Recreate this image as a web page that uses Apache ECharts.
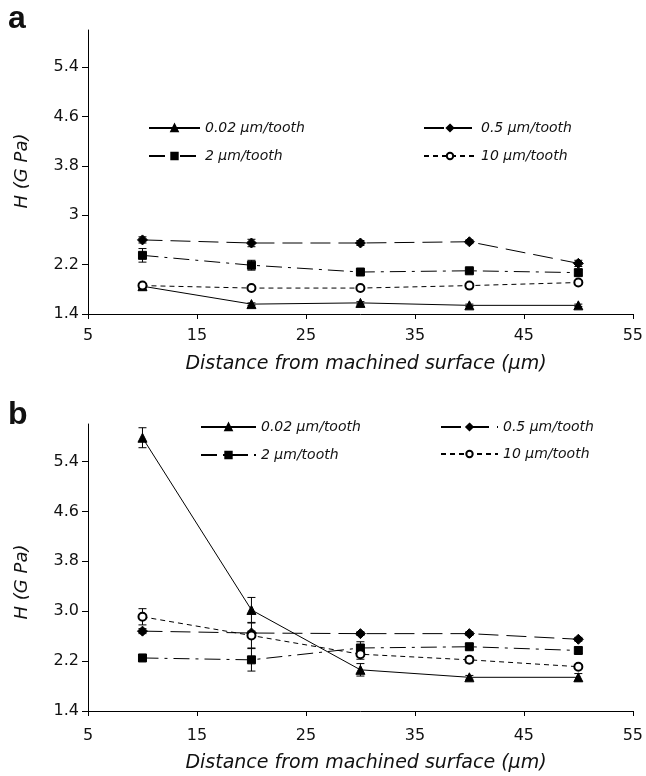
<!DOCTYPE html>
<html>
<head>
<meta charset="utf-8">
<script src="https://cdn.jsdelivr.net/npm/echarts@6/dist/echarts.min.js"></script>
<style>
  html, body { margin: 0; padding: 0; background: #fff; }
  #chart { width: 646px; height: 776px; }
</style>
</head>
<body>
<div id="chart"></div>
<script>
// x positions (µm) and tick values
const distance = [10, 20, 30, 40, 50];
const xTicks = [5, 15, 25, 35, 45, 55];
const yTicks = [1.4, 2.2, 3.0, 3.8, 4.6, 5.4];
const names = ['0.02 μm/tooth', '0.5 μm/tooth', '2 μm/tooth', '10 μm/tooth'];

// panel a
const a002 = [1.85, 1.56, 1.58, 1.54, 1.54];
const a05 = [2.6, 2.55, 2.55, 2.57, 2.22];
const a2 = [2.35, 2.19, 2.08, 2.1, 2.07];
const a10 = [1.86, 1.82, 1.82, 1.86, 1.91];
const a002Err = [0.02, 0.02, 0.02, 0.02, 0.02];
const a05Err = [0.05, 0.06, 0.04, 0.03, 0.05];
const a2Err = [0.11, 0.08, 0.03, 0.03, 0.05];
const a10Err = [0.03, 0.02, 0.02, 0.03, 0.02];

// panel b
const b002 = [5.78, 3.02, 2.06, 1.94, 1.94];
const b05 = [2.68, 2.65, 2.64, 2.64, 2.55];
const b2 = [2.25, 2.22, 2.41, 2.43, 2.37];
const b10 = [2.91, 2.61, 2.31, 2.22, 2.11];
const b002Err = [0.16, 0.2, 0.1, 0.03, 0.06];
const b05Err = [0.04, 0.03, 0.03, 0.03, 0.03];
const b2Err = [0.03, 0.18, 0.1, 0.05, 0.05];
const b10Err = [0.13, 0.2, 0.08, 0.05, 0.03];

const font = 'DejaVu Sans';
const ink = '#111';

const styles = [
  { symbol: 'triangle', size: 9, dash: 'solid' },
  { symbol: 'diamond', size: 10, dash: [20, 8] },
  { symbol: 'rect', size: 8, dash: [16, 6, 3, 6] },
  { symbol: 'emptyCircle', size: 8, dash: [5, 4] }
];

function lineSeries(idx, k, ys) {
  const s = styles[k];
  return {
    type: 'line', name: names[k], xAxisIndex: idx, yAxisIndex: idx,
    data: distance.map((x, i) => [x, ys[i]]),
    symbol: s.symbol, symbolSize: s.size, z: 3,
    lineStyle: { color: '#000', width: 1, type: s.dash },
    itemStyle: { color: '#000', borderColor: '#000', borderWidth: 1 }
  };
}

function errSeries(idx, ys, errs) {
  return {
    type: 'custom', name: 'err', xAxisIndex: idx, yAxisIndex: idx, z: 2,
    data: distance.map((x, i) => [x, ys[i], errs[i]]),
    renderItem: (params, api) => {
      const x = api.value(0), y = api.value(1), e = api.value(2);
      const hi = api.coord([x, y + e]);
      const lo = api.coord([x, y - e]);
      const w = 4;
      const st = { stroke: '#000', lineWidth: 1 };
      return {
        type: 'group',
        children: [
          { type: 'line', shape: { x1: hi[0], y1: hi[1], x2: lo[0], y2: lo[1] }, style: st },
          { type: 'line', shape: { x1: hi[0] - w, y1: hi[1], x2: hi[0] + w, y2: hi[1] }, style: st },
          { type: 'line', shape: { x1: lo[0] - w, y1: lo[1], x2: lo[0] + w, y2: lo[1] }, style: st }
        ]
      };
    }
  };
}

function xAxis(idx, margin) {
  return {
    type: 'value', gridIndex: idx, min: 5, max: 55,
    axisLine: { show: true, lineStyle: { color: '#000', width: 1 } },
    axisTick: { show: true, length: 5, customValues: xTicks, lineStyle: { color: '#000' } },
    axisLabel: { customValues: xTicks, margin: margin, color: ink, fontSize: 16, fontFamily: font },
    splitLine: { show: false }
  };
}

function yAxis(idx, fmt) {
  return {
    type: 'value', gridIndex: idx, min: 1.4, max: 6.0,
    axisLine: { show: true, lineStyle: { color: '#000', width: 1 } },
    axisTick: { show: true, length: 6, customValues: yTicks, lineStyle: { color: '#000' } },
    axisLabel: { customValues: yTicks, margin: 9, color: ink, fontSize: 16, fontFamily: font, formatter: fmt },
    splitLine: { show: false }
  };
}

function legend(k, left, top, width) {
  return {
    data: [names[k]], left: left, top: top, padding: 0,
    itemWidth: width, itemHeight: 8, selectedMode: false,
    textStyle: { color: ink, fontSize: 14, fontStyle: 'italic', fontFamily: font }
  };
}

function label(text, x, y, extra) {
  return {
    type: 'text', x: x, y: y,
    style: Object.assign({ text: text, fill: ink, align: 'center', verticalAlign: 'middle' }, extra)
  };
}

const titleStyle = { font: 'italic 19px "DejaVu Sans"' };
const yNameStyle = { font: 'italic 18px "DejaVu Sans"' };
const letterStyle = { font: 'bold 32px "Liberation Sans"', align: 'left' };

const chart = echarts.init(document.getElementById('chart'));
chart.setOption({
  animation: false,
  backgroundColor: '#fff',
  grid: [
    { left: 88, right: 13, top: 30, height: 284 },
    { left: 88, right: 13, top: 424, height: 287 }
  ],
  xAxis: [xAxis(0, 14), xAxis(1, 17)],
  yAxis: [
    yAxis(0, v => (v === 3 ? '3' : v.toFixed(1))),
    yAxis(1, v => v.toFixed(1))
  ],
  legend: [
    legend(0, 148, 121, 51),
    legend(2, 148, 149, 51),
    legend(1, 423, 121, 52),
    legend(3, 423, 149, 52),
    legend(0, 200, 420, 55),
    legend(2, 200, 448, 55),
    legend(1, 440, 420, 57),
    legend(3, 440, 447, 57)
  ],
  graphic: [
    label('a', 8, 19, letterStyle),
    label('b', 8, 415, letterStyle),
    label('Distance from machined surface (μm)', 366, 364, titleStyle),
    label('Distance from machined surface (μm)', 366, 763, titleStyle),
    Object.assign(label('H (G Pa)', 22, 171, yNameStyle), { rotation: Math.PI / 2 }),
    Object.assign(label('H (G Pa)', 22, 582, yNameStyle), { rotation: Math.PI / 2 })
  ],
  series: [
    errSeries(0, a002, a002Err), errSeries(0, a05, a05Err),
    errSeries(0, a2, a2Err), errSeries(0, a10, a10Err),
    lineSeries(0, 0, a002), lineSeries(0, 1, a05), lineSeries(0, 2, a2), lineSeries(0, 3, a10),
    errSeries(1, b002, b002Err), errSeries(1, b05, b05Err),
    errSeries(1, b2, b2Err), errSeries(1, b10, b10Err),
    lineSeries(1, 0, b002), lineSeries(1, 1, b05), lineSeries(1, 2, b2), lineSeries(1, 3, b10)
  ]
});
</script>
</body>
</html>
